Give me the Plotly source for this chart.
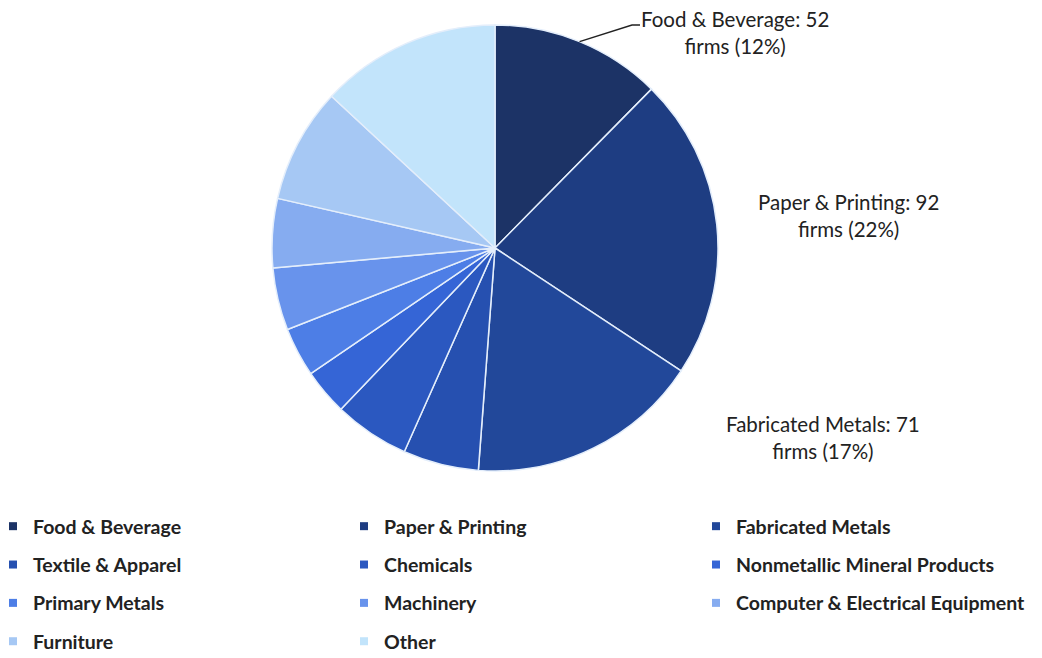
import math
import plotly.graph_objects as go

# ---- data ----
categories = ["Food & Beverage", "Paper & Printing", "Fabricated Metals",
              "Textile & Apparel", "Chemicals", "Nonmetallic Mineral Products",
              "Primary Metals", "Machinery", "Computer & Electrical Equipment",
              "Furniture", "Other"]
firms = [52, 92, 71, 23, 23, 14, 15, 19, 21, 35, 55]
colors = ["#1c3366", "#1e3d82", "#22489a", "#2650b0", "#2b58c0", "#3565d6",
          "#4d7ee6", "#6893ec", "#86acf0", "#a6c8f4", "#c2e4fb"]
labelled = ["Food & Beverage", "Paper & Printing", "Fabricated Metals"]

# page body has an 8px margin; positions below are in window pixels
OX, OY = 8, 8
W, H = 1042 - OX, 658 - OY
CX, CY, R = 495, 248, 223


def px(x, y):
    return (x - OX) / W, 1 - (y - OY) / H


total = sum(firms)

fig = go.Figure()
x0, y1 = px(CX - R, CY - R)
x1, y0 = px(CX + R, CY + R)
fig.add_trace(go.Pie(
    labels=categories, values=firms, sort=False, direction="clockwise",
    rotation=0, textinfo="none", hoverinfo="label+value+percent",
    marker=dict(colors=colors, line=dict(color="#e4eefb", width=1.5)),
    domain=dict(x=[x0, x1], y=[y0, y1]),
    showlegend=False,
))

# legend entries (three columns, four rows)
col_of = [0, 1, 2, 0, 1, 2, 0, 1, 2, 0, 1]
legend_names = ["legend", "legend2", "legend3"]
for i, (c, col) in enumerate(zip(categories, colors)):
    fig.add_trace(go.Scatter(
        x=[None], y=[None], mode="markers", name=c,
        marker=dict(symbol="square", size=8, color=col),
        legend=legend_names[col_of[i]], legendgroup=c, showlegend=True,
    ))

leg_common = dict(orientation="v", traceorder="grouped", tracegroupgap=10,
                  font=dict(family="Lato", size=19.5, color="#222222", weight="bold"),
                  bgcolor="rgba(0,0,0,0)", itemwidth=30, yanchor="top",
                  xanchor="left", itemclick=False, itemdoubleclick=False)
y_top = px(0, 507)[1]
fig.update_layout(
    legend=dict(x=px(-7, 0)[0], y=y_top, **leg_common),
    legend2=dict(x=px(344, 0)[0], y=y_top, **leg_common),
    legend3=dict(x=px(696, 0)[0], y=y_top, **leg_common),
)

# slice labels
label_pos = {"Food & Beverage": (735, 33), "Paper & Printing": (848, 215),
             "Fabricated Metals": (823, 437)}
for c in labelled:
    v = firms[categories.index(c)]
    pct = round(v / total * 100)
    x, y = px(*label_pos[c])
    fig.add_annotation(x=x, y=y, xref="paper", yref="paper", showarrow=False,
                       xanchor="center", yanchor="middle",
                       text=f"{c}: {v}<br>firms ({pct}%)", align="center",
                       font=dict(family="Lato", size=20.5, color="#222222"))

# leader line for Food & Beverage from its slice mid-angle
mid = 0.5 * firms[0] / total * 2 * math.pi
sx, sy = CX + R * math.sin(mid), CY - R * math.cos(mid)
p0, p1, p2 = px(sx, sy), px(632, 25), px(640, 25)
fig.add_shape(type="path", xref="paper", yref="paper",
              path=f"M {p0[0]},{p0[1]} L {p1[0]},{p1[1]} L {p2[0]},{p2[1]}",
              line=dict(color="#222222", width=1.5))

fig.update_layout(
    width=W, height=H, margin=dict(l=0, r=0, t=0, b=0, autoexpand=False),
    paper_bgcolor="white", plot_bgcolor="white",
    xaxis=dict(visible=False), yaxis=dict(visible=False),
)
fig.write_html("out.html")
